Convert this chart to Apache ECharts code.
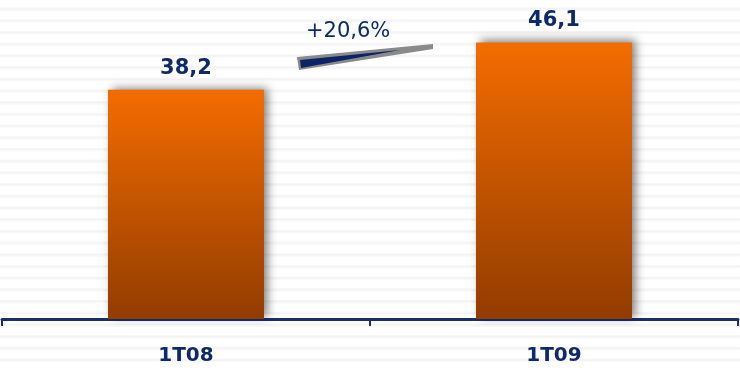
<!DOCTYPE html>
<html>
<head>
<meta charset="utf-8">
<script src="https://cdn.jsdelivr.net/npm/echarts@6/dist/echarts.min.js"></script>
<style>
html,body{margin:0;padding:0;}
#c{width:740px;height:368px;background:#fff repeating-linear-gradient(to bottom,#ffffff 0px,#ffffff 7px,#f7f7f7 8px,#f3f3f3 9px,#f8f8f8 10px,#ffffff 11.7px);}
</style>
</head>
<body>
<div id="c"></div>
<script>
const categories = ['1T08', '1T09'];
const values = [38.2, 46.1];
const growthLabel = '+20,6%';

const chart = echarts.init(document.getElementById('c'), null, {renderer: 'canvas'});
const navy = '#0E2A6A';
chart.setOption({
  backgroundColor: 'transparent',
  animation: false,
  grid: {left: 2, right: 2, top: 19, bottom: 49},
  xAxis: {
    type: 'category',
    data: categories,
    boundaryGap: true,
    axisLine: {show: true, lineStyle: {color: '#1B2D6B', width: 3}},
    axisTick: {show: true, inside: false, length: 7, lineStyle: {color: '#1B2D6B', width: 2}},
    axisLabel: {
      margin: 27,
      color: navy,
      fontFamily: 'DejaVu Sans',
      fontWeight: 'bold',
      fontSize: 20
    }
  },
  yAxis: {
    type: 'value',
    min: 0,
    max: 50,
    show: false,
    splitLine: {show: false}
  },
  series: [{
    type: 'bar',
    data: values,
    barWidth: '42.4%',
    itemStyle: {
      color: new echarts.graphic.LinearGradient(0, 0, 0, 1, [
        {offset: 0, color: '#F46C00'},
        {offset: 1, color: '#923C00'}
      ]),
      shadowColor: 'rgba(0,0,0,0.5)',
      shadowBlur: 9,
      shadowOffsetX: 4,
      shadowOffsetY: -2
    },
    label: {
      show: true,
      position: 'top',
      distance: 11,
      color: navy,
      fontFamily: 'DejaVu Sans',
      fontWeight: 'bold',
      fontSize: 21,
      formatter: p => String(p.value).replace('.', ',')
    }
  }],
  graphic: [
    {
      type: 'polygon',
      shape: {points: [[297, 57], [433, 44], [433, 49], [299, 70]]},
      style: {fill: '#8A8A8A'}
    },
    {
      type: 'polygon',
      shape: {points: [[300, 60], [400, 50], [301, 68]]},
      style: {fill: '#0C2466'}
    },
    {
      type: 'text',
      left: 306,
      top: 21,
      style: {
        text: growthLabel,
        fill: navy,
        fontFamily: 'DejaVu Sans',
        fontSize: 21
      }
    }
  ]
});
</script>
</body>
</html>
